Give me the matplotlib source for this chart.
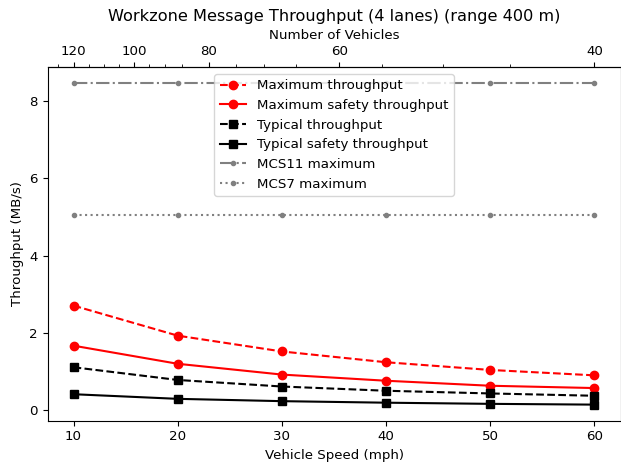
import matplotlib
matplotlib.use("Agg")
import matplotlib.pyplot as plt
from matplotlib.ticker import AutoMinorLocator
import numpy as np

plt.rcParams['font.size'] = 9.6

# data
speed_mph = [10, 20, 30, 40, 50, 60]
vehicles = [120, 85.7, 66.7, 54.5, 46.2, 40]
max_tp = [2.70, 1.92, 1.51, 1.23, 1.03, 0.89]
max_safety_tp = [1.66, 1.19, 0.91, 0.75, 0.62, 0.56]
typ_tp = [1.10, 0.77, 0.60, 0.49, 0.42, 0.36]
typ_safety_tp = [0.40, 0.28, 0.22, 0.18, 0.15, 0.13]
mcs11_max = [8.47] * 6
mcs7_max = [5.06] * 6

fig = plt.figure(figsize=(6.21, 4.65), dpi=100)
ax = fig.add_axes([0.0765, 0.0953, 0.9227, 0.760])

ax.plot(speed_mph, max_tp, 'r--o', label='Maximum throughput')
ax.plot(speed_mph, max_safety_tp, 'r-o', label='Maximum safety throughput')
ax.plot(speed_mph, typ_tp, 'k--s', label='Typical throughput')
ax.plot(speed_mph, typ_safety_tp, 'k-s', label='Typical safety throughput')
ax.plot(speed_mph, mcs11_max, '-.', color='gray', marker='.', label='MCS11 maximum')
ax.plot(speed_mph, mcs7_max, ':', color='gray', marker='.', label='MCS7 maximum')

ax.set_xlabel('Vehicle Speed (mph)')
ax.set_ylabel('Throughput (MB/s)')
ax.legend(loc='upper center')

# top axis: number of vehicles for each speed (piecewise linear, extrapolated at the ends)
sp = np.array(speed_mph, dtype=float)
nv = np.array(vehicles, dtype=float)


def interp_ext(x, xp, fp):
    x = np.asarray(x, dtype=float)
    y = np.interp(x, xp, fp)
    lo = x < xp[0]
    hi = x > xp[-1]
    y = np.where(lo, fp[0] + (x - xp[0]) * (fp[1] - fp[0]) / (xp[1] - xp[0]), y)
    y = np.where(hi, fp[-1] + (x - xp[-1]) * (fp[-1] - fp[-2]) / (xp[-1] - xp[-2]), y)
    return y


def to_vehicles(x):
    return interp_ext(x, sp, nv)


def to_speed(n):
    return interp_ext(n, nv[::-1], sp[::-1])


sec = ax.secondary_xaxis('top', functions=(to_vehicles, to_speed))
sec.set_xticks([120, 100, 80, 60, 40])
sec.xaxis.set_minor_locator(AutoMinorLocator(4))
sec.set_xlabel('Number of Vehicles')

ax.set_title('Workzone Message Throughput (4 lanes) (range 400 m)', fontsize=11.6)

fig.savefig('out.png', dpi=100)
